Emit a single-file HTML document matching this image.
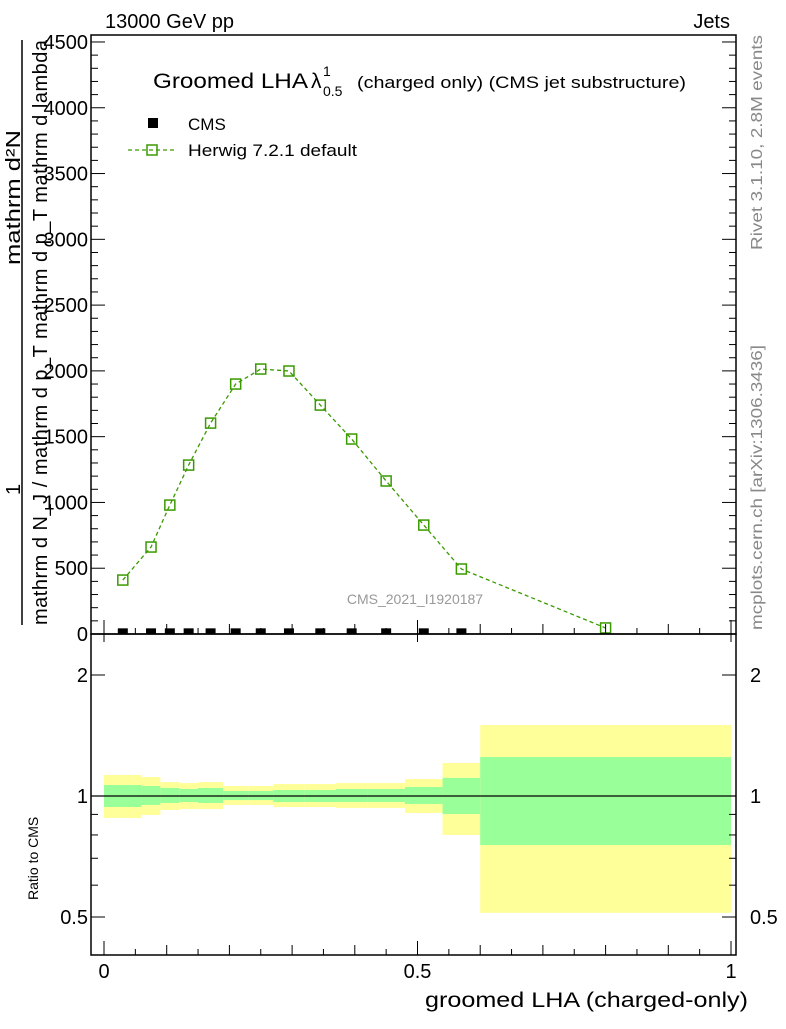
<!DOCTYPE html>
<html><head><meta charset="utf-8"><style>
body{margin:0;background:#fff}
svg text{font-family:"Liberation Sans",sans-serif}
</style></head><body>
<svg id="c" width="786" height="1024" xmlns="http://www.w3.org/2000/svg">
<text x="105" y="28" font-size="20">13000 GeV pp</text>
<text x="730" y="28" font-size="20" text-anchor="end">Jets</text>
<g>
<text x="153" y="88" font-size="21" textLength="155" lengthAdjust="spacingAndGlyphs">Groomed LHA</text>
<text x="311" y="88" font-size="21">λ</text>
<text x="323" y="76" font-size="14">1</text>
<text x="323" y="96" font-size="14">0.5</text>
<text x="357" y="88" font-size="17" textLength="329" lengthAdjust="spacingAndGlyphs">(charged only) (CMS jet substructure)</text>
</g>
<g>
<rect x="148" y="118" width="10" height="10" fill="#000"/>
<text x="188" y="130" font-size="17">CMS</text>
<line x1="128" y1="150" x2="175" y2="150" stroke="#3a9a00" stroke-width="1.3" stroke-dasharray="4,3"/>
<rect x="147" y="145" width="10" height="10" fill="none" stroke="#3a9a00" stroke-width="1.5"/>
<text x="188" y="156" font-size="17" textLength="169" lengthAdjust="spacingAndGlyphs">Herwig 7.2.1 default</text>
</g>
<text x="415" y="604" font-size="14" fill="#999" text-anchor="middle">CMS_2021_I1920187</text>
<text transform="translate(762,250) rotate(-90)" font-size="16" fill="#888" textLength="215" lengthAdjust="spacingAndGlyphs">Rivet 3.1.10,  2.8M events</text>
<text transform="translate(762,630) rotate(-90)" font-size="16" fill="#888" textLength="285" lengthAdjust="spacingAndGlyphs">mcplots.cern.ch [arXiv:1306.3436]</text>
<g>
<text transform="translate(20,265) rotate(-90)" font-size="20" textLength="135" lengthAdjust="spacingAndGlyphs">mathrm d²N</text>
<text transform="translate(20,495) rotate(-90)" font-size="20">1</text>
<line x1="22" y1="40" x2="22" y2="625" stroke="#000" stroke-width="1.5"/>
<text transform="translate(47,625) rotate(-90)" font-size="20" textLength="585">mathrm d N_J / mathrm d p_T mathrm d p_T mathrm d lambda</text>
</g>
<text transform="translate(38,900) rotate(-90)" font-size="14">Ratio to CMS</text>
<text x="748" y="1007" font-size="21" text-anchor="end" textLength="323" lengthAdjust="spacingAndGlyphs">groomed LHA (charged-only)</text>
<g id="g"></g>
</svg>
<script>
const binEdges=[0,0.06,0.09,0.12,0.15,0.19,0.23,0.27,0.32,0.37,0.42,0.48,0.54,0.6,1.0];
const herwigVals=[410,661,980,1284,1603,1900,2014,1999,1740,1482,1163,828,494,46];
const cmsVals=[5,5,5,5,5,5,5,5,5,5,5,5,5,0];
const yellowUp=[1.128,1.115,1.083,1.077,1.083,1.059,1.059,1.071,1.071,1.077,1.077,1.102,1.208,1.502];
const yellowDn=[0.882,0.897,0.923,0.928,0.928,0.950,0.950,0.939,0.939,0.934,0.934,0.907,0.800,0.512];
const greenUp=[1.065,1.059,1.047,1.041,1.047,1.029,1.029,1.035,1.035,1.041,1.041,1.053,1.109,1.250];
const greenDn=[0.939,0.950,0.961,0.966,0.961,0.977,0.977,0.966,0.966,0.966,0.966,0.955,0.902,0.755];
const yTicks=[0,500,1000,1500,2000,2500,3000,3500,4000,4500];
const yTickLabels=["0","500","1000","1500","2000","2500","3000","3500","4000","4500"];
const xTicks=[0,0.5,1];
const xTickLabels=["0","0.5","1"];
const rTicks=[0.5,1,2];
const rTickLabels=["0.5","1","2"];

const L=91,R=736,T=35,MB=634,RB=955;
const X=v=>104+v*627;
const Y=v=>634-v*0.13156;
const RY=r=>796-121*Math.log2(r);
const g=document.getElementById('g');
const NS='http://www.w3.org/2000/svg';
function mk(t,a,p){const e=document.createElementNS(NS,t);for(const k in a)e.setAttribute(k,a[k]);(p||g).appendChild(e);return e;}

for(let i=0;i<herwigVals.length;i++){
  const x0=X(binEdges[i]),x1=X(binEdges[i+1]);
  let e=mk('rect',{x:x0,y:RY(yellowUp[i]),width:x1-x0,height:RY(yellowDn[i])-RY(yellowUp[i]),fill:'#ffff99'});
  
  
  e=mk('rect',{x:x0,y:RY(greenUp[i]),width:x1-x0,height:RY(greenDn[i])-RY(greenUp[i]),fill:'#99ff99'});
  
  
}
let ln=mk('line',{x1:L,x2:R,y1:RY(1),y2:RY(1),stroke:'#000','stroke-width':1.2});



const defs=mk('defs',{});
const cp=mk('clipPath',{id:'cp'},defs);mk('rect',{x:L,y:T,width:R-L,height:MB-T},cp);
const mg=mk('g',{'clip-path':'url(#cp)'});
const mids=[];for(let i=0;i<herwigVals.length;i++)mids.push((binEdges[i]+binEdges[i+1])/2);
let pts=herwigVals.map((v,i)=>X(mids[i])+','+Y(v)).join(' ');
let pl=mk('polyline',{points:pts,fill:'none',stroke:'#3a9a00','stroke-width':1.3,'stroke-dasharray':'4,3'},mg);


for(let i=0;i<cmsVals.length;i++){
  if(cmsVals[i]<=0)continue;
  const e=mk('rect',{x:X(mids[i])-5,y:Y(cmsVals[i])-5,width:10,height:10,fill:'#000'},mg);
  
  
}
for(let i=0;i<herwigVals.length;i++){
  const e=mk('rect',{x:X(mids[i])-5,y:Y(herwigVals[i])-5,width:10,height:10,fill:'none',stroke:'#3a9a00','stroke-width':1.5},mg);
  
  
}
let f=mk('rect',{x:L,y:T,width:R-L,height:MB-T,fill:'none',stroke:'#000','stroke-width':1.5});


f=mk('rect',{x:L,y:MB,width:R-L,height:RB-MB,fill:'none',stroke:'#000','stroke-width':1.5});


for(let v=0;v<=4500;v+=100){
  const len=v%500===0?14:7,y=Y(v);
  mk('line',{x1:L,x2:L+len,y1:y,y2:y,stroke:'#000'});
  mk('line',{x1:R,x2:R-len,y1:y,y2:y,stroke:'#000'});
}
yTicks.forEach((v,i)=>{const t=mk('text',{x:L-3,y:Y(v)+7,'font-size':20,'text-anchor':'end'});t.textContent=yTickLabels[i];
  
  });
for(let k=0;k<=20;k++){
  const v=k*0.05,x=X(v),len=k%10===0?14:(k%2===0?10:6);
  mk('line',{x1:x,x2:x,y1:MB,y2:MB-len,stroke:'#000'});
  mk('line',{x1:x,x2:x,y1:RB,y2:RB-len,stroke:'#000'});
  if(k%10===0)mk('line',{x1:x,x2:x,y1:MB,y2:MB+8,stroke:'#000'});
}
xTicks.forEach((v,i)=>{const t=mk('text',{x:X(v),y:978,'font-size':20,'text-anchor':'middle'});t.textContent=xTickLabels[i];
  
  });
[0.5,0.6,0.7,0.8,0.9,1,2].forEach(r=>{const len=(r===0.5||r===1||r===2)?14:7,y=RY(r);
  mk('line',{x1:L,x2:L+len,y1:y,y2:y,stroke:'#000'});mk('line',{x1:R,x2:R-len,y1:y,y2:y,stroke:'#000'});});
rTicks.forEach((v,i)=>{const t=mk('text',{x:L-3,y:RY(v)+7,'font-size':20,'text-anchor':'end'});t.textContent=rTickLabels[i];
  
  
  const t2=mk('text',{x:R+14,y:RY(v)+7,'font-size':20});t2.textContent=rTickLabels[i];
  
  });
</script>
</body></html>
